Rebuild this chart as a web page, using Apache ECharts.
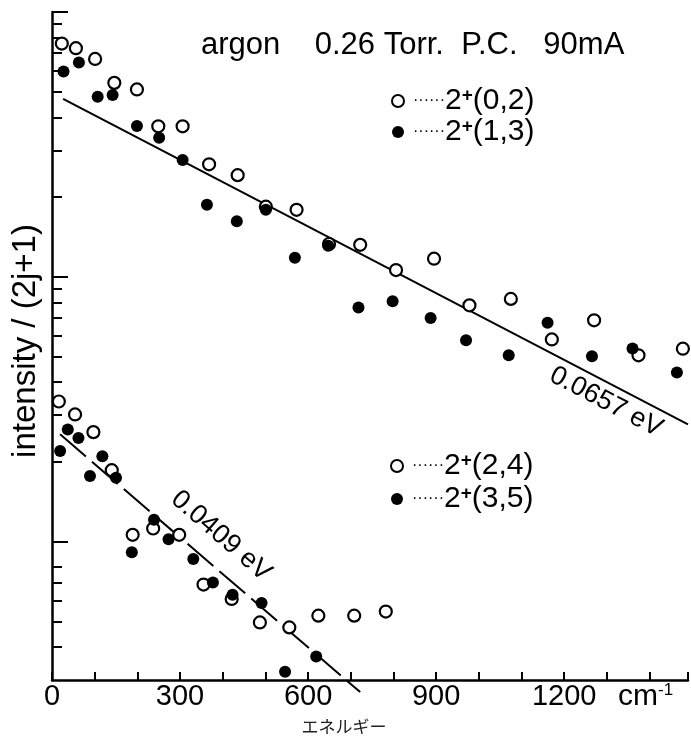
<!DOCTYPE html>
<html><head><meta charset="utf-8">
<script src="https://cdn.jsdelivr.net/npm/echarts@6/dist/echarts.min.js"></script>
<style>html,body{margin:0;padding:0;background:#fff}#c{width:691px;height:745px}</style>
</head><body><div id="c"></div>
<script>
// ---- data (x in cm^-1, y = intensity/(2j+1), log scale) ----
const seriesNames = ['2+(0,2)', '2+(1,3)', '2+(2,4)', '2+(3,5)'];

const upperOpenX = [23, 56, 101, 146, 199, 249, 306, 368, 435, 501, 573, 649, 722, 806, 895, 978, 1075, 1171, 1270, 1374, 1478];
const upperOpenY = [76, 73, 66.5, 54, 51, 37, 37, 26.6, 24.2, 18.4, 17.9, 13.3, 13.2, 10.6, 11.7, 7.8, 8.25, 5.8, 6.85, 5.05, 5.35];

const upperFilledX = [27, 63, 107, 142, 199, 251, 306, 363, 433, 501, 569, 647, 718, 798, 887, 970, 1070, 1161, 1265, 1360, 1464];
const upperFilledY = [59.6, 64.4, 47.9, 48.6, 37.1, 33.5, 27.6, 18.7, 16.2, 17.9, 11.8, 13.1, 7.65, 8.09, 6.99, 5.76, 5.05, 6.71, 5.01, 5.36, 4.35];

const lowerOpenX = [16, 54, 97, 140, 189, 237, 298, 355, 421, 487, 556, 624, 708, 782];
const lowerOpenY = [3.38, 3.02, 2.59, 1.86, 1.06, 1.12, 1.06, 0.688, 0.607, 0.495, 0.474, 0.525, 0.525, 0.544];

const lowerFilledX = [19, 37, 62, 89, 118, 150, 187, 239, 273, 331, 377, 423, 491, 546, 619];
const lowerFilledY = [2.2, 2.65, 2.46, 1.77, 2.1, 1.74, 0.911, 1.21, 1.02, 0.86, 0.70, 0.63, 0.586, 0.322, 0.368];

const fitUpperX = [26, 1490];
const fitUpperY = [47.0, 2.77];
const fitLowerX = [19, 722];
const fitLowerY = [2.54, 0.27];

const fitLabels = ['0.0657 eV', '0.0409 eV'];
const titleText = 'argon    0.26 Torr.  P.C.   90mA';
const xName = 'エネルギー';
const yName = 'intensity / (2j+1)';

const xTickValues = [0, 100, 200, 300, 400, 500, 600, 700, 800, 900, 1000, 1100, 1200, 1300, 1400, 1490];
const xLabelValues = [0, 300, 600, 900, 1200];
const yMajorTicks = [1, 10, 100];
const yMinorTicks = [0.4, 0.5, 0.6, 0.7, 0.8, 2, 3, 4, 5, 6, 7, 8, 9, 20, 30, 40, 50, 60, 70, 80, 90];

// ---- build ----
const zip = (xs, ys) => xs.map((x, i) => [x, ys[i]]);
const SANS = "'Liberation Sans', Arial, sans-serif";

const legendRich = {
  d: { fontSize: 16, fontFamily: SANS, color: '#000', padding: [0, 0, 0, 4] },
  n: { fontSize: 30, fontFamily: SANS, color: '#000', lineHeight: 30 },
  s: { fontSize: 19, fontFamily: SANS, fontWeight: 'bold', color: '#000', verticalAlign: 'top', lineHeight: 18 }
};
const legendFormatter = name => '{d|······}{n|2}{s|+}{n|' + name.slice(2) + '}';

const openStyle = { color: '#fff', borderColor: '#000', borderWidth: 2.2, opacity: 1 };
const filledStyle = { color: '#000', borderColor: '#000', borderWidth: 0, opacity: 1 };

function yAxisBase() {
  return {
    type: 'log', logBase: 10, min: 0.3, max: 100, position: 'left',
    axisLabel: { show: false }, splitLine: { show: false }
  };
}

const option = {
  animation: false,
  backgroundColor: '#fff',
  title: {
    text: titleText, left: 201, top: 30, padding: 0,
    textStyle: { fontFamily: SANS, fontSize: 31, fontWeight: 'normal', color: '#000' }
  },
  grid: { left: 52, right: 3, top: 12, bottom: 65 },
  xAxis: {
    type: 'value', min: 0, max: 1490,
    name: xName, nameLocation: 'middle', nameGap: 38,
    nameTextStyle: { fontFamily: "'Noto Sans CJK JP', sans-serif", fontSize: 17, color: '#222', padding: [0, 52, 0, 0] },
    axisLine: { onZero: false, lineStyle: { color: '#000', width: 2.5 } },
    axisTick: { inside: true, length: 8, customValues: xTickValues, lineStyle: { color: '#000', width: 2 } },
    axisLabel: { customValues: xLabelValues, margin: 2, fontFamily: SANS, fontSize: 29, color: '#000',
      formatter: v => String(v) },
    splitLine: { show: false }
  },
  yAxis: [
    Object.assign(yAxisBase(), {
      name: yName, nameLocation: 'middle', nameRotate: 90, nameGap: 10,
      nameTextStyle: { fontFamily: SANS, fontSize: 33, color: '#000', padding: [0, 0, 0, 10] },
      axisLine: { show: true, onZero: false, lineStyle: { color: '#000', width: 2.5 } },
      axisTick: { show: true, inside: true, length: 16, customValues: yMajorTicks, lineStyle: { color: '#000', width: 2 } }
    }),
    Object.assign(yAxisBase(), {
      axisLine: { show: false },
      axisTick: { show: true, inside: true, length: 10, customValues: yMinorTicks, lineStyle: { color: '#000', width: 2 } }
    })
  ],
  legend: [
    {
      data: [seriesNames[0], seriesNames[1]], orient: 'vertical', left: 391, top: 86,
      itemWidth: 12, itemHeight: 12, itemGap: 1, padding: 0, selectedMode: false,
      formatter: legendFormatter, textStyle: { rich: legendRich }
    },
    {
      data: [seriesNames[2], seriesNames[3]], orient: 'vertical', left: 390, top: 451,
      itemWidth: 12, itemHeight: 12, itemGap: 3, padding: 0, selectedMode: false,
      formatter: legendFormatter, textStyle: { rich: legendRich }
    }
  ],
  graphic: [
    { type: 'text', x: 606, y: 402, rotation: -0.48,
      style: { text: fitLabels[0], fontSize: 27, fontFamily: SANS, fill: '#000', align: 'center', verticalAlign: 'middle' } },
    { type: 'text', x: 221, y: 536, rotation: -0.716,
      style: { text: fitLabels[1], fontSize: 27, fontFamily: SANS, fill: '#000', align: 'center', verticalAlign: 'middle' } },
    { type: 'text', x: 618, y: 697,
      style: { text: '{a|cm}{b|-1}', verticalAlign: 'middle',
        rich: { a: { fontSize: 30, fontFamily: SANS, color: '#000', lineHeight: 30 },
                b: { fontSize: 17, fontFamily: SANS, color: '#000', verticalAlign: 'top', lineHeight: 17 } } } }
  ],
  series: [
    { type: 'line', name: 'fit 0.0657 eV', data: zip(fitUpperX, fitUpperY), symbol: 'none', silent: true,
      lineStyle: { color: '#000', width: 2 }, z: 2 },
    { type: 'line', name: 'fit 0.0409 eV', data: zip(fitLowerX, fitLowerY), symbol: 'none', silent: true, clip: false,
      lineStyle: { color: '#000', width: 2, type: [34, 8] }, z: 2 },
    { type: 'scatter', name: seriesNames[0], data: zip(upperOpenX, upperOpenY), symbol: 'circle', symbolSize: 12, itemStyle: openStyle, z: 3 },
    { type: 'scatter', name: seriesNames[1], data: zip(upperFilledX, upperFilledY), symbol: 'circle', symbolSize: 12, itemStyle: filledStyle, z: 4 },
    { type: 'scatter', name: seriesNames[2], data: zip(lowerOpenX, lowerOpenY), symbol: 'circle', symbolSize: 12, itemStyle: openStyle, z: 3 },
    { type: 'scatter', name: seriesNames[3], data: zip(lowerFilledX, lowerFilledY), symbol: 'circle', symbolSize: 12, itemStyle: filledStyle, z: 4 }
  ]
};

const chart = echarts.init(document.getElementById('c'), null, { renderer: 'canvas' });
chart.setOption(option);
</script>
</body></html>
